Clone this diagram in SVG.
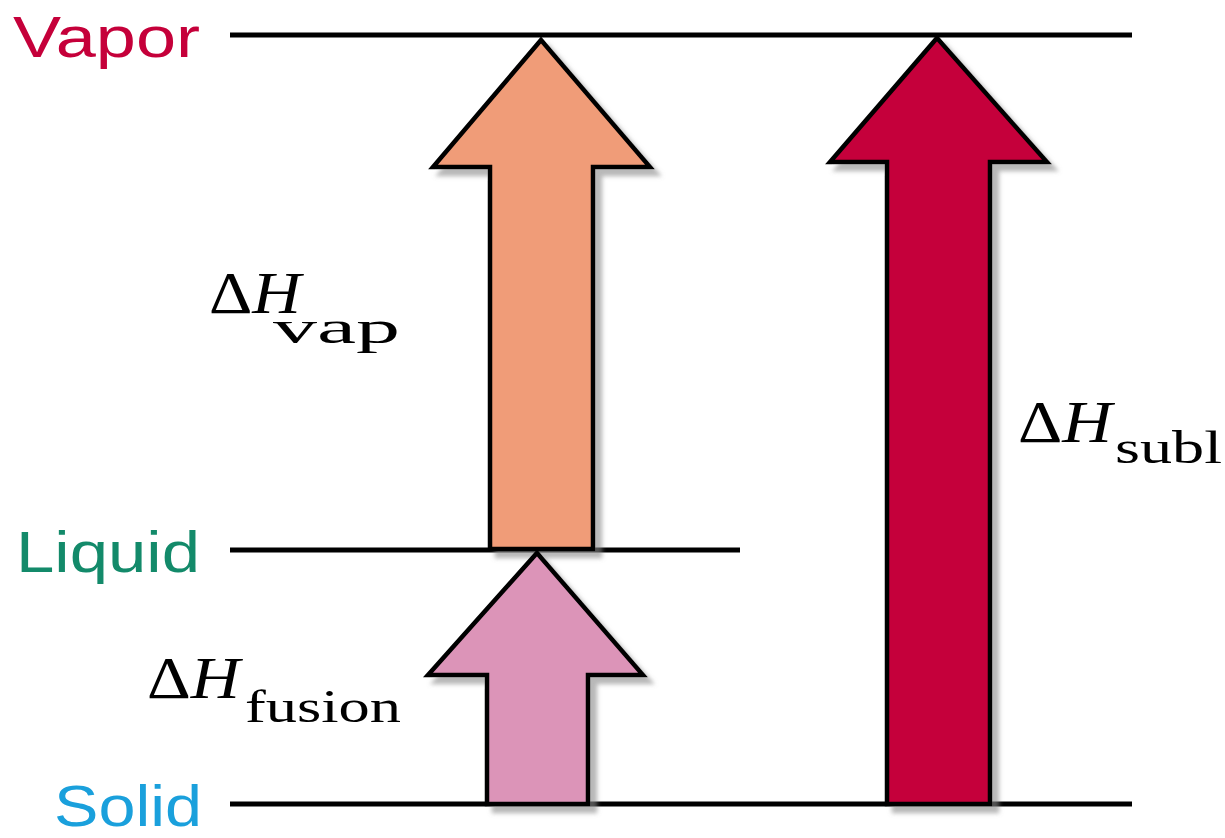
<svg xmlns="http://www.w3.org/2000/svg" width="1225" height="838" viewBox="0 0 1225 838">
<style>
.lvl{stroke:#000;stroke-width:5;fill:none}
.arrow{stroke:#000;stroke-width:4.5;stroke-linejoin:miter;filter:url(#sh)}
.state{font-family:"Liberation Sans",Arial,sans-serif;font-size:58px}
.dh{font-family:"Liberation Serif","Times New Roman",serif;font-size:60px;fill:#000}
.sub{font-size:46px}
</style>
<defs>
<filter id="sh" x="-20%" y="-20%" width="140%" height="140%">
<feDropShadow dx="7" dy="7" stdDeviation="2" flood-color="#888" flood-opacity="0.6"/>
</filter>
</defs>
<g id="levels">
<line class="lvl" x1="230" y1="35" x2="1132" y2="35"/>
<line class="lvl" x1="230" y1="550" x2="740" y2="550"/>
<line class="lvl" x1="230" y1="804" x2="1132" y2="804"/>
</g>
<g id="labels-states">
<text class="state" x="13" y="57" fill="#c5003a" textLength="187" lengthAdjust="spacingAndGlyphs">Vapor</text>
<text class="state" x="16" y="572" fill="#138a6a" textLength="184" lengthAdjust="spacingAndGlyphs">Liquid</text>
<text class="state" x="54" y="826" fill="#1aa0dc" font-size="54" textLength="148" lengthAdjust="spacingAndGlyphs">Solid</text>
</g>
<g id="connectors">
<g id="arrow-vap">
<polygon class="arrow" fill="#f09c78" points="541,40 650,167 593,167 593,549 490,549 490,167 433,167"/>
</g>
<g id="arrow-fusion">
<polygon class="arrow" fill="#dc94b8" points="537,553 643,675 588,675 588,804 487,804 487,675 428,675"/>
</g>
<g id="arrow-subl">
<polygon class="arrow" fill="#c5003a" points="937,38 1047,162 990,162 990,804 887,804 887,162 830,162"/>
</g>
</g>
<g id="label-vap">
<text class="dh" x="209" y="313"><tspan textLength="92" lengthAdjust="spacingAndGlyphs">Δ<tspan font-style="italic">H</tspan></tspan><tspan class="sub" x="273" y="343" textLength="127" lengthAdjust="spacingAndGlyphs">vap</tspan></text>
</g>
<g id="label-fusion">
<text class="dh" x="147" y="698"><tspan textLength="93" lengthAdjust="spacingAndGlyphs">Δ<tspan font-style="italic">H</tspan></tspan><tspan class="sub" x="245" y="722" textLength="156" lengthAdjust="spacingAndGlyphs">fusion</tspan></text>
</g>
<g id="label-subl">
<text class="dh" x="1018" y="442"><tspan textLength="94" lengthAdjust="spacingAndGlyphs">Δ<tspan font-style="italic">H</tspan></tspan><tspan class="sub" x="1115" y="463" textLength="107" lengthAdjust="spacingAndGlyphs">subl</tspan></text>
</g>
</svg>
